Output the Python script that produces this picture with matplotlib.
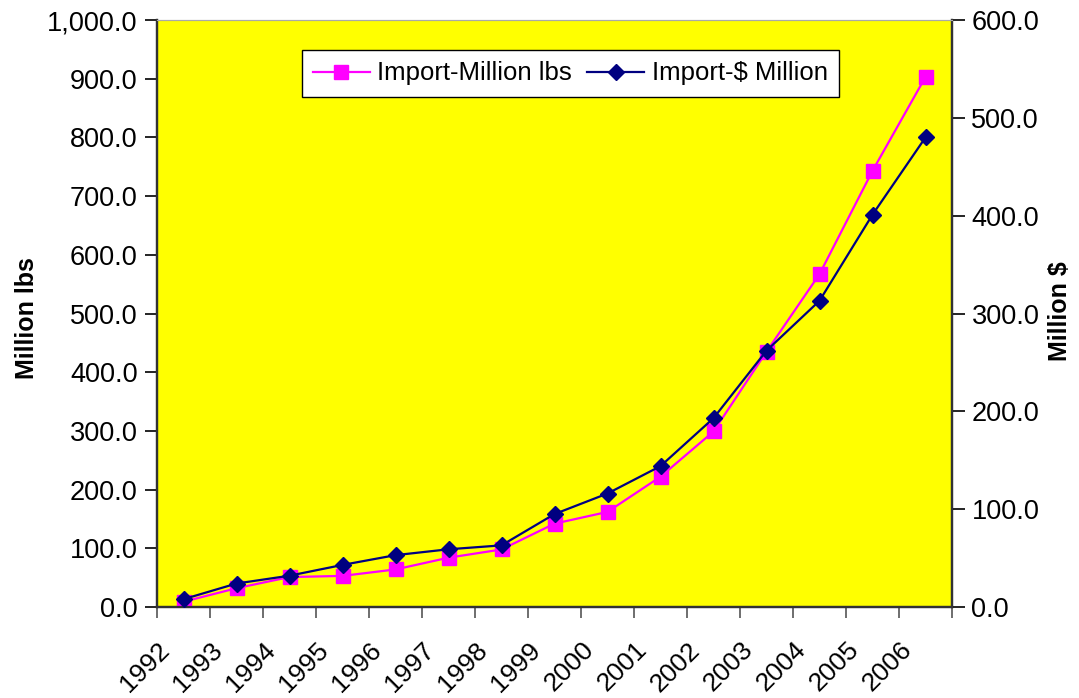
import numpy as np
import matplotlib.pyplot as plt
import matplotlib.transforms as mtransforms

plt.rcParams['font.family'] = ['Liberation Sans', 'DejaVu Sans']

# Data
years = ['1992', '1993', '1994', '1995', '1996', '1997', '1998', '1999',
         '2000', '2001', '2002', '2003', '2004', '2005', '2006']
import_lbs = [9, 32, 51, 53, 64, 84, 98, 142, 162, 222, 299, 435, 567, 743, 903]
import_usd = [8, 24, 32, 43, 53, 59, 63, 95, 116, 144, 193, 262, 313, 401, 480]

x = np.arange(len(years))

fig = plt.figure(figsize=(10.79, 6.98), dpi=100)
ax = fig.add_axes([157 / 1079, 1 - 607 / 698, 795 / 1079, 587 / 698])
ax.set_facecolor('#FFFF00')
ax2 = ax.twinx()

l1, = ax.plot(x, import_lbs, color='#FF00FF', marker='s', markersize=10,
              linewidth=1.6, label='Import-Million lbs', zorder=3)
l2, = ax2.plot(x, import_usd, color='#000080', marker='D', markersize=8.5,
               linewidth=1.6, label='Import-$ Million', zorder=4)

ax.set_xlim(-0.5, len(years) - 0.5)
ax.set_ylim(0, 1000)
ax2.set_ylim(0, 600)
ax.set_yticks(np.arange(0, 1001, 100))
ax2.set_yticks(np.arange(0, 601, 100))
ax.set_yticklabels([f'{v:,.1f}' for v in np.arange(0, 1001, 100)])
ax2.set_yticklabels([f'{v:,.1f}' for v in np.arange(0, 601, 100)])

# category boundaries get tick marks, centers get the labels
ax.set_xticks(np.arange(-0.5, len(years), 1))
ax.set_xticklabels([])
ax.set_xticks(x, minor=True)
ax.set_xticklabels(years, minor=True, rotation=45, ha='right', fontsize=19)
ax.tick_params(axis='x', which='major', direction='out', length=8, width=1.2, color='#555555')
ax.tick_params(axis='x', which='minor', length=0, pad=22)
offset = mtransforms.ScaledTranslation(-9 / 100, 0, fig.dpi_scale_trans)
for lab in ax.get_xticklabels(minor=True):
    lab.set_transform(lab.get_transform() + offset)

ax.tick_params(axis='y', direction='out', length=9, width=1.2, labelsize=19.5, pad=5)
ax2.tick_params(axis='y', direction='out', length=9, width=1.2, labelsize=19.5, pad=5)

for a in (ax, ax2):
    a.spines['left'].set_color('#333333')
    a.spines['bottom'].set_color('#333333')
    a.spines['right'].set_color('#333333')
    a.spines['top'].set_color('#aaaaaa')
    for s in ('left', 'bottom', 'right'):
        a.spines[s].set_linewidth(1.6)

fig.text(27 / 1079, 1 - 318 / 698, 'Million lbs', rotation=90, ha='center', va='center',
         fontsize=18, fontweight='bold')
fig.text(1060 / 1079, 1 - 311 / 698, 'Million $', rotation=90, ha='center', va='center',
         fontsize=18, fontweight='bold')

leg = ax2.legend(handles=[l1, l2], loc='upper center', bbox_to_anchor=(0.52, 0.949),
                 ncol=2, fontsize=18.5, frameon=True, fancybox=False,
                 handlelength=2.2, columnspacing=0.6, handletextpad=0.3,
                 borderpad=0.45, borderaxespad=0)
leg.get_frame().set_edgecolor('black')
leg.get_frame().set_linewidth(1.0)
leg.get_frame().set_alpha(1)

fig.savefig('out.png', dpi=100)
